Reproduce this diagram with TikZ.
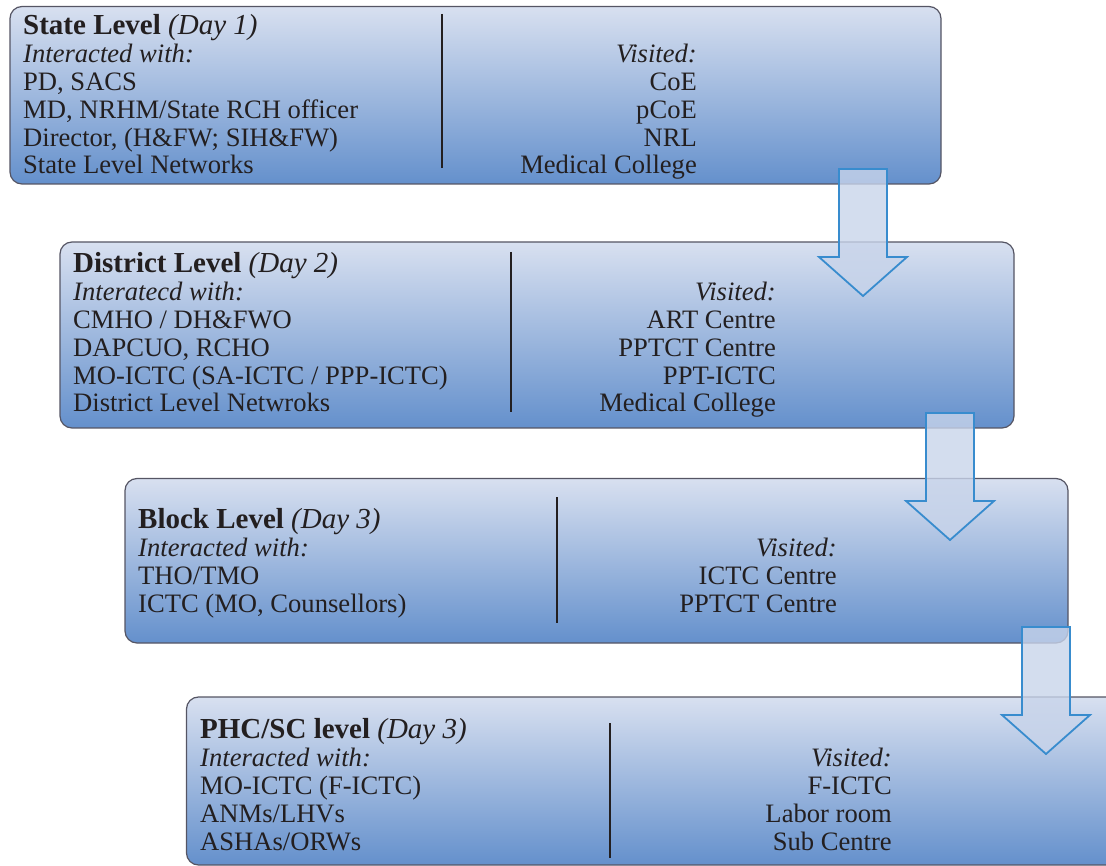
\documentclass[tikz,border=0pt]{standalone}
\usepackage{fontspec}
\setmainfont{Liberation Serif}
\definecolor{boxtop}{RGB}{216,224,240}
\definecolor{boxbot}{RGB}{100,144,204}
\definecolor{boxline}{RGB}{85,85,100}
\definecolor{arrline}{RGB}{56,140,206}
\definecolor{arrfill}{RGB}{200,212,234}
\definecolor{txt}{RGB}{35,31,32}
\tikzset{
  levelbox/.style={draw=boxline, line width=1.2pt, rounded corners=12pt,
    top color=boxtop, bottom color=boxbot, inner sep=0pt},
  coltext/.style={inner sep=0pt, text=txt, font=\fontsize{26.6}{27.8}\selectfont},
  lefttext/.style={coltext, align=left, anchor=base west},
  righttext/.style={coltext, align=right, anchor=base east},
  divider/.style={draw=txt, line width=1.6pt},
  arrowst/.style={draw=arrline, line width=1.8pt, fill=arrfill, fill opacity=0.8, line join=miter},
  downarr/.pic={\path[arrowst] (-24,0) -- (-24,88) -- (-44,88) -- (0,127) -- (44,88) -- (24,88) -- (24,0) -- cycle;}
}
\newcommand{\ttl}[2]{{\fontsize{29}{27.8}\selectfont\textbf{#1} \textit{(#2)}}}
\begin{document}
\begin{tikzpicture}[x=1pt,y=-1pt]
\useasboundingbox (0,0) rectangle (1106,866);
\clip (0,0) rectangle (1106,866);
% boxes
\node[levelbox, minimum width=931pt, minimum height=177.5pt] (b1) at (475.5,95.25) {};
\node[levelbox, minimum width=954pt, minimum height=186pt] (b2) at (537,335) {};
\node[levelbox, minimum width=943pt, minimum height=164.5pt] (b3) at (596.5,560.75) {};
\node[levelbox, minimum width=943pt, minimum height=168pt] (b4) at (658,781) {};
% box 1 (anchors at the baseline of the last line)
\node[lefttext] (l1) at (23,174) {\ttl{State Level}{Day 1}\\ \textit{Interacted with:}\\ PD, SACS\\ MD, NRHM/State RCH officer\\ Director, (H\&FW; SIH\&FW)\\ State Level Networks};
\node[righttext] (r1) at (697,174) {\textit{Visited:}\\ CoE\\ pCoE\\ NRL\\ Medical College};
\draw[divider] (442,14) -- (442,168);
% box 2
\node[lefttext] (l2) at (73,412) {\ttl{District Level}{Day 2}\\ \textit{Interatecd with:}\\ CMHO / DH\&FWO\\ DAPCUO, RCHO\\ MO-ICTC (SA-ICTC / PPP-ICTC)\\ District Level Netwroks};
\node[righttext] (r2) at (776,412) {\textit{Visited:}\\ ART Centre\\ PPTCT Centre\\ PPT-ICTC\\ Medical College};
\draw[divider] (511,252) -- (511,412);
% box 3
\node[lefttext] (l3) at (138,612) {\ttl{Block Level}{Day 3}\\ \textit{Interacted with:}\\ THO/TMO\\ ICTC (MO, Counsellors)};
\node[righttext] (r3) at (837,612) {\textit{Visited:}\\ ICTC Centre\\ PPTCT Centre};
\draw[divider] (557,497) -- (557,623);
% box 4
\node[lefttext] (l4) at (200,850) {\ttl{PHC/SC level}{Day 3}\\ \textit{Interacted with:}\\ MO-ICTC (F-ICTC)\\ ANMs/LHVs\\ ASHAs/ORWs};
\node[righttext] (r4) at (892,850) {\textit{Visited:}\\ F-ICTC\\ Labor room\\ Sub Centre};
\draw[divider] (610,723) -- (610,858);
% arrows
\pic at (863,169) {downarr};
\pic at (950,413) {downarr};
\pic at (1046,627) {downarr};
\end{tikzpicture}
\end{document}
